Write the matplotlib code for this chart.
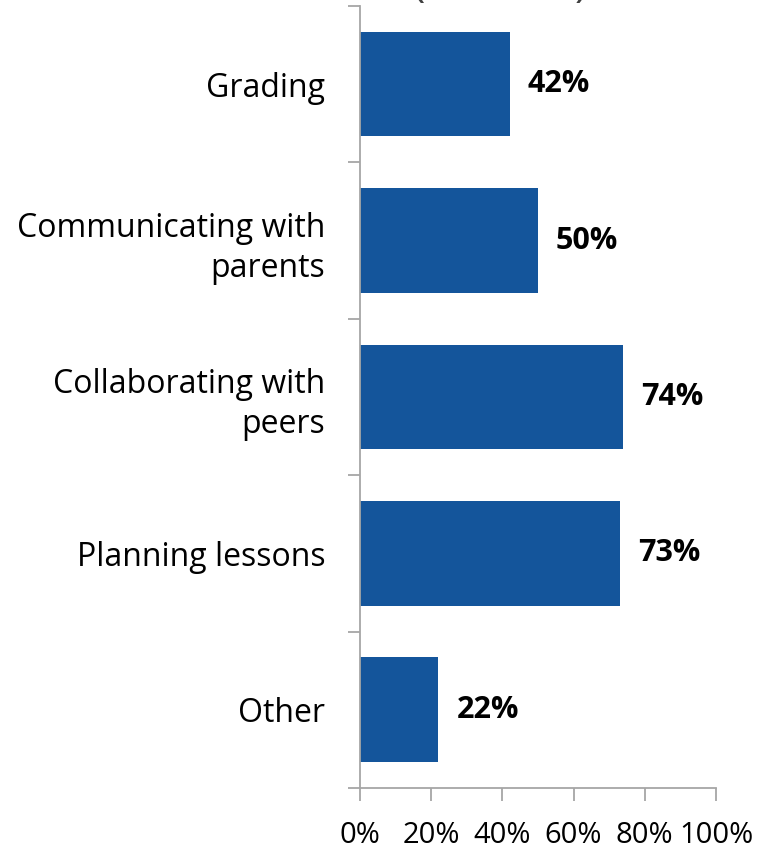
import matplotlib
matplotlib.use('Agg')
import matplotlib.pyplot as plt
from matplotlib.ticker import FuncFormatter

# Data (top to bottom)
categories = ["Grading", "Communicating with\nparents", "Collaborating with\npeers",
              "Planning lessons", "Other"]
values = [42, 50, 74, 73, 22]
x_ticks = [0, 20, 40, 60, 80, 100]

plt.rcParams['font.family'] = ['Open Sans', 'DejaVu Sans']

bar_color = '#14559B'
axis_color = '#A6A6A6'

fig = plt.figure(figsize=(7.59, 8.52), dpi=100)
ax = fig.add_axes([0.4743, 0.0751, 0.469, 0.918])

n = len(categories)
pos = list(range(n))
ax.barh(pos, values, height=0.67, color=bar_color)
ax.set_ylim(n - 0.5, -0.5)
ax.set_xlim(0, 100)

# value labels
for p, v in zip(pos, values):
    ax.annotate(f'{v}%', xy=(v, p), xytext=(13, 0), textcoords='offset points',
                ha='left', va='center', fontsize=22, fontweight='bold', color='black')

# y ticks at category boundaries, labels centred on bars
ax.set_yticks([i - 0.5 for i in range(n + 1)])
ax.set_yticklabels([])
ax.set_yticks(pos, minor=True)
ax.set_yticklabels(categories, minor=True, fontsize=23, ha='right', linespacing=1.3)
ax.tick_params(axis='y', which='major', length=9, width=1.3, color=axis_color, direction='out')
ax.tick_params(axis='y', which='minor', length=0, pad=25)

ax.set_xticks(x_ticks)
ax.xaxis.set_major_formatter(FuncFormatter(lambda x, _: f'{int(x)}%'))
ax.tick_params(axis='x', length=9, width=1.3, color=axis_color, direction='out',
               labelsize=21, pad=15)

for s in ['top', 'right']:
    ax.spines[s].set_visible(False)
for s in ['left', 'bottom']:
    ax.spines[s].set_color(axis_color)
    ax.spines[s].set_linewidth(1.3)

# title cut off at the top of the image
fig.text(0.659, 1.005, '(N=1000)', ha='center', va='baseline', fontsize=30,
         color='#404040')

fig.savefig('out.png', dpi=100)
